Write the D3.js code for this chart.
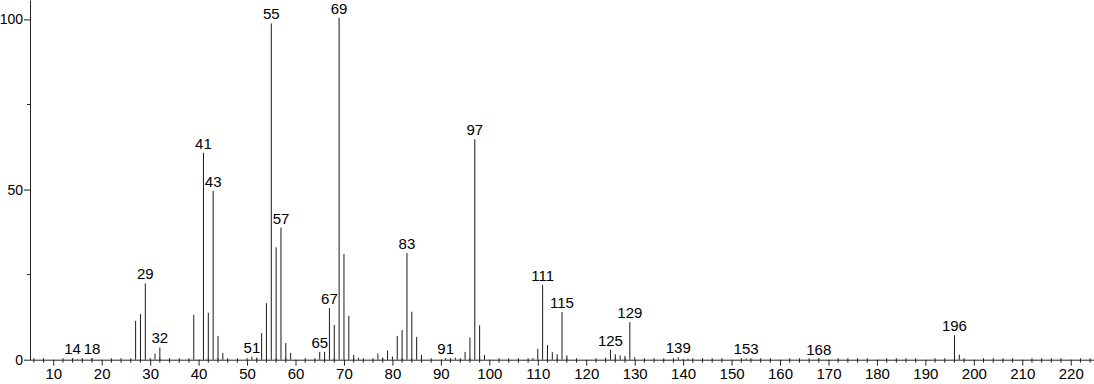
<!DOCTYPE html>
<html>
<head>
<meta charset="utf-8">
<script src="https://cdn.jsdelivr.net/npm/d3@7"></script>
<style>
  html, body { margin: 0; padding: 0; background: #fff; }
  svg { display: block; font-family: "Liberation Sans", Arial, sans-serif; }
</style>
</head>
<body>
<svg id="chart" width="1094" height="384"></svg>
<script>
// m/z of each stick
const masses = [14, 15, 16, 18, 27, 28, 29, 30, 31, 32, 39, 41, 42, 43, 44, 45, 50, 51, 52,
  53, 54, 55, 56, 57, 58, 59, 65, 66, 67, 68, 69, 70, 71, 72, 73, 77, 78, 79, 80, 81, 82,
  83, 84, 85, 86, 91, 92, 93, 95, 96, 97, 98, 99, 109, 110, 111, 112, 113, 114, 115, 116,
  124, 125, 126, 127, 128, 129, 130, 139, 140, 141, 153, 168, 196, 197];
// relative abundance (%)
const intensities = [0.4, 0.2, 0.3, 0.4, 11.4, 13.4, 22.4, 0.5, 1.8, 3.6, 13.2, 60.8, 13.8, 49.6, 7.0, 2.0, 0.5, 0.9, 0.6,
  7.8, 16.6, 98.8, 33.0, 38.8, 4.9, 2.0, 2.3, 2.3, 15.2, 10.2, 100.5, 31.1, 12.9, 1.4, 0.6, 1.8, 0.6, 2.7, 0.9, 7.0, 8.7,
  31.3, 14.1, 6.7, 1.4, 0.5, 0.3, 0.6, 2.3, 6.5, 64.8, 10.1, 1.4, 0.5, 3.2, 22.0, 4.3, 2.2, 1.6, 14.0, 1.3,
  0.6, 2.9, 1.6, 1.3, 1.1, 11.0, 0.7, 0.7, 0.3, 0.3, 0.4, 0.3, 7.2, 1.5];
// sticks that carry a label
const labelled = [14, 18, 29, 32, 41, 43, 51, 55, 57, 65, 67, 69, 83, 91, 97, 111, 115, 125, 129, 139, 153, 168, 196];

const xMajor = d3.range(10, 221, 10);
const xMinor = d3.range(6, 225, 2).filter(v => v % 10 !== 0);
const yMajor = [0, 50, 100];
const yMinor = [25, 75];

const peaks = masses.map((m, i) => ({ m: m, v: intensities[i] }));

const svg = d3.select('#chart');
const x = d3.scaleLinear().domain([5.2, 224.8]).range([30, 1094]);
const y = d3.scaleLinear().domain([0, 105.7]).range([359.7, 0]);

// sticks
svg.append('g').selectAll('line').data(peaks).enter().append('line')
  .attr('x1', d => x(d.m)).attr('x2', d => x(d.m))
  .attr('y1', y(0)).attr('y2', d => y(d.v))
  .attr('stroke', '#1a1a1a').attr('stroke-width', 1);

// x axis
const gx = svg.append('g').attr('transform', `translate(0,${y(0)})`);
gx.call(d3.axisBottom(x).tickValues(xMajor).tickSize(6).tickSizeOuter(0).tickPadding(3));
gx.append('g').selectAll('line').data(xMinor).enter().append('line')
  .attr('x1', d => x(d)).attr('x2', d => x(d))
  .attr('y1', -1.5).attr('y2', 3).attr('stroke', '#222');
gx.selectAll('.tick text').attr('font-size', 15);

// y axis
const gy = svg.append('g').attr('transform', `translate(${x(5.2)},0)`);
gy.call(d3.axisLeft(y).tickValues(yMajor).tickSize(6).tickSizeOuter(0).tickPadding(1));
gy.append('g').selectAll('line').data(yMinor).enter().append('line')
  .attr('y1', d => y(d)).attr('y2', d => y(d))
  .attr('x1', -3).attr('x2', 0).attr('stroke', '#222');
gy.selectAll('.tick text').attr('font-size', 14);

svg.selectAll('.domain, .tick line').attr('stroke', '#222');
svg.selectAll('.tick text').attr('fill', '#000')
  .attr('font-family', '"Liberation Sans", Arial, sans-serif');

// peak labels
svg.append('g').selectAll('text').data(peaks.filter(d => labelled.includes(d.m))).enter().append('text')
  .attr('x', d => x(d.m)).attr('y', d => y(d.v) - 4)
  .attr('text-anchor', 'middle').attr('font-size', 15).attr('fill', '#000')
  .text(d => d.m);
</script>
</body>
</html>
